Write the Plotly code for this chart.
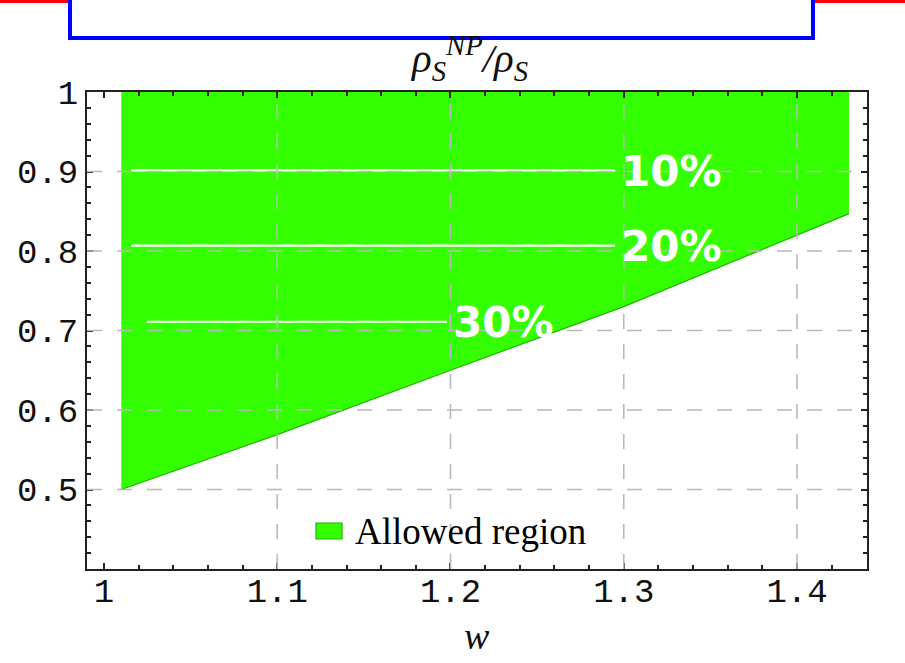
import plotly.graph_objects as go

# ---- data ----
boundary_w = [1.01, 1.1, 1.2, 1.3, 1.4, 1.43]
boundary_r = [0.5, 0.569, 0.65, 0.73, 0.82, 0.847]
region_top = 1.0

contour_labels = ["10%", "20%", "30%"]
contour_r = [0.9015, 0.8067, 0.711]
contour_w_start = [1.0156, 1.0156, 1.0246]
contour_w_end = [1.295, 1.295, 1.198]

x_tick_vals = [1.0, 1.1, 1.2, 1.3, 1.4]
x_tick_text = ["1", "1.1", "1.2", "1.3", "1.4"]
y_tick_vals = [0.5, 0.6, 0.7, 0.8, 0.9, 1.0]
y_tick_text = ["0.5", "0.6", "0.7", "0.8", "0.9", "1"]
x_grid = [1.1, 1.2, 1.3, 1.4]
y_grid = [0.5, 0.6, 0.7, 0.8, 0.9]

legend_label = "Allowed region"

GREEN = "#33FF00"
GRID = "#b8b8b8"

fig = go.Figure()

# allowed region polygon
poly_x = [boundary_w[0]] + boundary_w + [boundary_w[-1]]
poly_y = [region_top] + boundary_r + [region_top]
fig.add_trace(go.Scatter(x=poly_x, y=poly_y, fill="toself", fillcolor=GREEN,
                         mode="lines", line=dict(width=0, color=GREEN),
                         hoverinfo="skip", showlegend=False))
fig.add_trace(go.Scatter(x=boundary_w, y=boundary_r, mode="lines",
                         line=dict(width=1.2, color="#1fb400"),
                         hoverinfo="skip", showlegend=False))

# white contour lines
for xs, xe, r in zip(contour_w_start, contour_w_end, contour_r):
    fig.add_trace(go.Scatter(x=[xs, xe], y=[r, r], mode="lines",
                             line=dict(width=2.2, color="white"),
                             hoverinfo="skip", showlegend=False))

annotations = []
for lab, xe, r in zip(contour_labels, contour_w_end, contour_r):
    annotations.append(dict(x=xe, y=r, xref="x", yref="y", text=lab,
                            showarrow=False, xanchor="left", yanchor="middle",
                            xshift=4, yshift=-1,
                            font=dict(family="DejaVu Sans", size=42,
                                      color="white", weight="bold")))

# title and axis title
annotations.append(dict(x=0.49, y=1.072, xref="paper", yref="paper",
                        text="<i>ρ<sub>S</sub><sup>NP</sup>/ρ<sub>S</sub></i>",
                        showarrow=False, xanchor="center", yanchor="middle",
                        font=dict(family="Liberation Serif", size=41, color="#111")))
annotations.append(dict(x=0.5, y=-0.14, xref="paper", yref="paper",
                        text="<i>w</i>", showarrow=False,
                        xanchor="center", yanchor="middle",
                        font=dict(family="Liberation Serif", size=38, color="#111")))
# legend text
annotations.append(dict(x=(353 - 87) / 780, y=(569 - 531) / 477,
                        xref="paper", yref="paper", text=legend_label,
                        showarrow=False, xanchor="left", yanchor="middle",
                        font=dict(family="Liberation Serif", size=37, color="#000")))

shapes = []
for g in x_grid:
    shapes.append(dict(type="line", xref="x", yref="paper", x0=g, x1=g, y0=0, y1=1,
                       line=dict(color=GRID, width=1.6, dash="15px,15px"),
                       layer="above"))
for g in y_grid:
    shapes.append(dict(type="line", xref="paper", yref="y", x0=0, x1=1, y0=g, y1=g,
                       line=dict(color=GRID, width=1.6, dash="15px,15px"),
                       layer="above"))
# legend swatch
shapes.append(dict(type="rect", xref="paper", yref="paper",
                   x0=(316 - 87) / 780, x1=(342 - 87) / 780,
                   y0=(569 - 539) / 477, y1=(569 - 523) / 477,
                   fillcolor=GREEN, line=dict(color="#1fb400", width=1.2), layer="above"))
# slide decoration: blue box and red rules
shapes.append(dict(type="rect", xref="paper", yref="paper",
                   x0=(70 - 87) / 780, x1=(813 - 87) / 780,
                   y0=(569 - 38) / 477, y1=(569 + 20) / 477,
                   fillcolor="white", line=dict(color="#0000ff", width=4), layer="above"))
shapes.append(dict(type="line", xref="paper", yref="paper",
                   x0=(0 - 87) / 780, x1=(68 - 87) / 780,
                   y0=(569 - 1.5) / 477, y1=(569 - 1.5) / 477,
                   line=dict(color="#ff0000", width=3)))
shapes.append(dict(type="line", xref="paper", yref="paper",
                   x0=(815 - 87) / 780, x1=(905 - 87) / 780,
                   y0=(569 - 1.5) / 477, y1=(569 - 1.5) / 477,
                   line=dict(color="#ff0000", width=3)))

axis_common = dict(showgrid=False, zeroline=False, showline=True, linecolor="#222",
                   linewidth=2, mirror="ticks", ticks="inside", ticklen=6,
                   tickwidth=1.5, tickcolor="#222",
                   tickfont=dict(family="Liberation Mono", size=34, color="#111"))

fig.update_xaxes(range=[0.9902, 1.4404], tickvals=x_tick_vals, ticktext=x_tick_text,
                 ticklabelstandoff=-10,
                 minor=dict(dtick=0.02, tick0=1.0, ticks="inside", ticklen=4,
                            tickwidth=1.5, tickcolor="#222", showgrid=False),
                 **axis_common)
fig.update_yaxes(range=[0.4, 1.0], tickvals=y_tick_vals, ticktext=y_tick_text,
                 minor=dict(dtick=0.02, tick0=0.4, ticks="inside", ticklen=4,
                            tickwidth=1.5, tickcolor="#222", showgrid=False),
                 **axis_common)

fig.update_layout(width=905, height=663, autosize=False,
                  margin=dict(l=87, r=38, t=92, b=94),
                  plot_bgcolor="white", paper_bgcolor="white",
                  showlegend=False, annotations=annotations, shapes=shapes)

fig.write_html("out.html", config={"displayModeBar": False},
               post_script="document.body.style.margin='0';document.body.style.overflow='hidden';")
